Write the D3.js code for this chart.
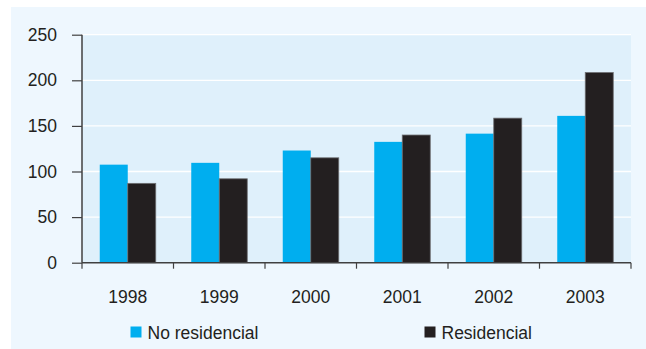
<!DOCTYPE html>
<html><head><meta charset="utf-8">
<script src="https://cdn.jsdelivr.net/npm/d3@7"></script>
<style>html,body{margin:0;padding:0;background:#fff;}svg{display:block;}</style>
</head><body>
<svg id="c" width="646" height="349"></svg>
<script>
const years = ["1998","1999","2000","2001","2002","2003"];
const seriesNames = ["No residencial","Residencial"];
const noResidencial = [107.5, 109.5, 123, 132.5, 141.5, 161];
const residencial = [87, 92, 115, 140, 158.5, 208.5];
const yTicks = [0,50,100,150,200,250];
const colors = ["#00aeef","#231f20"];

(function(){
const svg = d3.select("#c");
const font = "'Liberation Sans', Arial, sans-serif";
svg.append("rect").attr("x",11).attr("y",7).attr("width",635).attr("height",342).attr("fill","#eef7fe");

const pL=82, pR=631, pT=34.7, pB=262.7;
const x = d3.scaleBand().domain(years).range([pL,pR]);
const y = d3.scaleLinear().domain([0,250]).range([pB,pT]);
const x1 = d3.scaleBand().domain(seriesNames).range([0, 56]);

svg.append("rect").attr("x",pL).attr("y",pT).attr("width",pR-pL).attr("height",pB-pT).attr("fill","#dff0fb");
svg.append("g").selectAll("line").data(yTicks.filter(d=>d>0)).join("line")
  .attr("x1",pL).attr("x2",pR).attr("y1",d=>y(d)).attr("y2",d=>y(d))
  .attr("stroke","#fff").attr("stroke-width",1.3);

const data = years.map((yr,i)=>({yr, vals:[noResidencial[i], residencial[i]]}));
const g = svg.append("g").selectAll("g").data(data).join("g")
  .attr("transform",d=>`translate(${x(d.yr)+x.bandwidth()/2-28},0)`);
g.selectAll("rect").data(d=>d.vals.map((v,j)=>({v,j}))).join("rect")
  .attr("x",d=>x1(seriesNames[d.j]))
  .attr("y",d=>y(d.v)).attr("width",x1.bandwidth()).attr("height",d=>pB-y(d.v))
  .attr("fill",d=>colors[d.j])
  .attr("stroke",d=>d.j===1?"#6d6e71":"none").attr("stroke-width",0.8);

const yAxis = svg.append("g").attr("transform",`translate(${pL},0)`)
  .call(d3.axisLeft(y).tickValues(yTicks).tickSize(10).tickPadding(15));
const xAxis = svg.append("g").attr("transform",`translate(0,${pB})`)
  .call(d3.axisBottom(x).tickSize(0).tickPadding(28));
svg.append("g").selectAll("line").data(years.concat(["end"])).join("line")
  .attr("x1",(d,i)=>pL+i*x.step()).attr("x2",(d,i)=>pL+i*x.step())
  .attr("y1",pB).attr("y2",pB+6).attr("stroke","#404041").attr("stroke-width",1.2);
[yAxis,xAxis].forEach(a=>{
  a.selectAll(".domain").attr("stroke","#404041").attr("stroke-width",1.5);
  a.selectAll(".tick line").attr("stroke","#404041").attr("stroke-width",1.2);
  a.selectAll("text").attr("font-family",font).attr("font-size",17.5).attr("fill","#231f20");
});
xAxis.select(".domain").attr("d",`M${pL},0H${pR}`);
yAxis.select(".domain").attr("d",`M0,${pB}V${pT}`);

const legX = [130.5, 424.5];
const leg = svg.append("g").selectAll("g").data(seriesNames).join("g")
  .attr("transform",(d,i)=>`translate(${legX[i]},326.5)`);
leg.append("rect").attr("width",11).attr("height",11).attr("fill",(d,i)=>colors[i]);
leg.append("text").attr("x",17).attr("y",12.5).text(d=>d)
  .attr("font-family",font).attr("font-size",17.5).attr("fill","#231f20");
})();
</script>
</body></html>
